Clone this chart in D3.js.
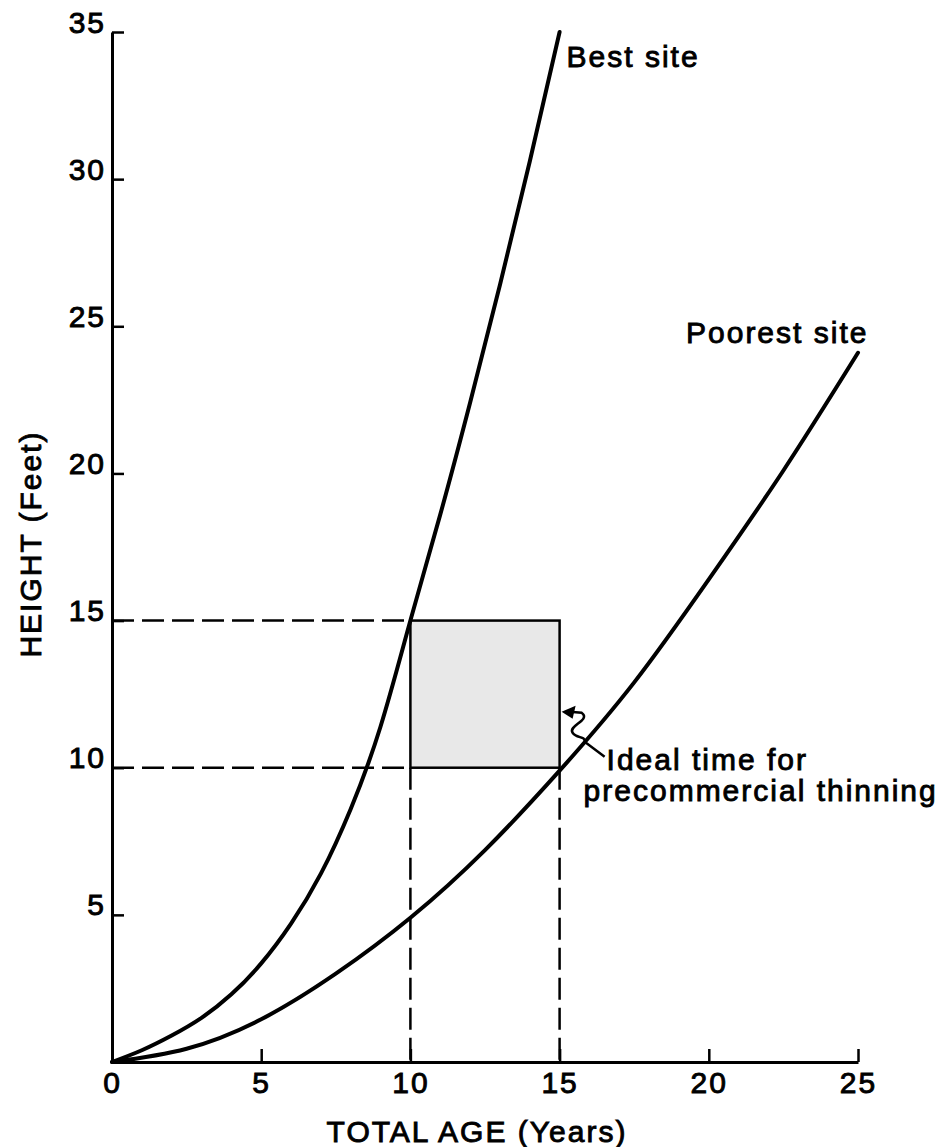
<!DOCTYPE html>
<html>
<head>
<meta charset="utf-8">
<script src="https://cdn.jsdelivr.net/npm/d3@7"></script>
<style>
  html, body { margin: 0; padding: 0; background: #fff; }
  svg text {
    font-family: "Liberation Sans", Arial, Helvetica, sans-serif;
    font-size: 30px;
    fill: #000;
    stroke: #000;
    stroke-width: 0.9px;
    letter-spacing: 2px;
  }
</style>
</head>
<body>
<div id="chart"></div>
<script>
// data
const bestAges = [0, 1, 2, 3, 4, 5, 6, 7, 8, 9, 10, 11, 12, 13, 14, 15];
const bestHeights = [0, 0.4, 0.9, 1.5, 2.3, 3.35, 4.7, 6.4, 8.6, 11.4, 15, 18.6, 22.4, 26.4, 30.6, 35];

const poorAges = [0, 2.5, 5, 7.5, 10, 12.5, 15, 17.5, 20, 22.5, 25];
const poorHeights = [0, 0.45, 1.45, 3.0, 4.9, 7.2, 9.9, 12.9, 16.4, 20.1, 24.1];

const thinAges = [10, 15];     // box on the age axis
const thinHeights = [10, 15];  // box on the height axis

const xTicks = [0, 5, 10, 15, 20, 25];
const yTicks = [5, 10, 15, 20, 25, 30, 35];

const width = 950, height = 1147;

const svg = d3.select('#chart')
  .append('svg')
  .attr('width', width)
  .attr('height', height);

const x = d3.scaleLinear().domain([0, 25]).range([112, 858]);
const y = d3.scaleLinear().domain([0, 35]).range([1062, 32]);

const line = d3.line()
  .x(d => x(d[0]))
  .y(d => y(d[1]))
  .curve(d3.curveNatural);

// shaded box for thinning
svg.append('rect')
  .attr('x', x(thinAges[0]))
  .attr('y', y(thinHeights[1]))
  .attr('width', x(thinAges[1]) - x(thinAges[0]))
  .attr('height', y(thinHeights[0]) - y(thinHeights[1]))
  .attr('fill', '#e8e8e8')
  .attr('stroke', '#000')
  .attr('stroke-width', 2.5);

// dashed guides
const dash = '22 8';
const guides = [
  [[0, thinHeights[1]], [thinAges[0], thinHeights[1]]],
  [[0, thinHeights[0]], [thinAges[0], thinHeights[0]]],
  [[thinAges[0], thinHeights[0]], [thinAges[0], 0]],
  [[thinAges[1], thinHeights[0]], [thinAges[1], 0]]
];
svg.selectAll('.guide')
  .data(guides)
  .enter()
  .append('line')
  .attr('class', 'guide')
  .attr('x1', d => x(d[0][0]))
  .attr('y1', d => y(d[0][1]))
  .attr('x2', d => x(d[1][0]))
  .attr('y2', d => y(d[1][1]))
  .attr('stroke', '#000')
  .attr('stroke-width', 2.5)
  .attr('stroke-dasharray', dash);

// axes
const yAxis = d3.axisLeft(y)
  .tickValues(yTicks)
  .tickSizeInner(-12)
  .tickSizeOuter(0)
  .tickPadding(6);

svg.append('g')
  .attr('transform', 'translate(' + x(0) + ',0)')
  .call(yAxis)
  .call(g => g.select('.domain').attr('stroke-width', 3))
  .call(g => g.selectAll('.tick line').attr('stroke-width', 2.5))
  .call(g => g.selectAll('.tick text').attr('dy', 0));

const xAxis = d3.axisBottom(x)
  .tickValues(xTicks)
  .tickSizeInner(-13)
  .tickSizeOuter(0)
  .tickPadding(10);

svg.append('g')
  .attr('transform', 'translate(0,' + y(0) + ')')
  .call(xAxis)
  .call(g => g.select('.domain').attr('stroke-width', 3))
  .call(g => g.selectAll('.tick line').attr('stroke-width', 2.5));

// growth curves
const curves = [
  d3.zip(bestAges, bestHeights),
  d3.zip(poorAges, poorHeights)
];
svg.selectAll('.curve')
  .data(curves)
  .enter()
  .append('path')
  .attr('class', 'curve')
  .attr('fill', 'none')
  .attr('stroke', '#000')
  .attr('stroke-width', 4)
  .attr('stroke-linecap', 'round')
  .attr('d', line);

// curve labels
svg.append('text')
  .attr('x', x(15) + 7)
  .attr('y', y(35) + 35)
  .text('Best site');

svg.append('text')
  .attr('x', x(25) - 172)
  .attr('y', y(24.1) - 10)
  .text('Poorest site');

// axis titles
svg.append('text')
  .attr('x', 477)
  .attr('y', 1142)
  .attr('text-anchor', 'middle')
  .text('TOTAL AGE (Years)');

svg.append('text')
  .attr('transform', 'translate(41,' + y(17.6) + ') rotate(-90)')
  .attr('text-anchor', 'middle')
  .text('HEIGHT (Feet)');

// annotation arrow
const ax = x(thinAges[1]) + 2;
const ay = y(11.9);
svg.append('path')
  .attr('d', `M${ax + 8},${ay} L${ax + 20},${ay + 1}
    C${ax + 30},${ay + 8} ${ax + 6},${ay + 14} ${ax + 11},${ay + 21}
    C${ax + 15},${ay + 27} ${ax + 24},${ay + 24} ${ax + 23},${ay + 30}
    L${ax + 43},${ay + 45}`)
  .attr('fill', 'none')
  .attr('stroke', '#000')
  .attr('stroke-width', 2.5);

svg.append('path')
  .attr('d', `M${ax},${ay} L${ax + 14},${ay - 6} L${ax + 11},${ay + 7} Z`)
  .attr('fill', '#000');

svg.append('text')
  .attr('x', x(thinAges[1]) + 47)
  .attr('y', y(thinHeights[0]) + 2)
  .text('Ideal time for');

svg.append('text')
  .attr('x', x(thinAges[1]) + 24)
  .attr('y', y(thinHeights[0]) + 33)
  .text('precommercial thinning');
</script>
</body>
</html>
